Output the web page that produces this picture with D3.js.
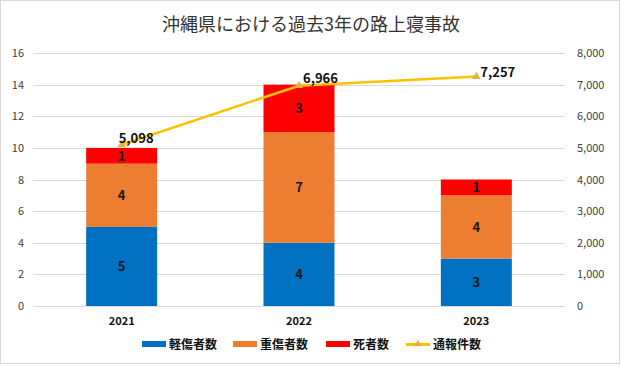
<!DOCTYPE html>
<html><head><meta charset="utf-8">
<script src="https://cdn.jsdelivr.net/npm/d3@7"></script>
<style>body{margin:0;background:#fff}svg{display:block}text{font-family:"Noto Sans CJK JP","DejaVu Sans",sans-serif}</style>
</head><body>
<svg id="c" width="622" height="367"></svg>
<script>
const title = "沖縄県における過去3年の路上寝事故";
const years = ["2021","2022","2023"];
const seriesNames = ["軽傷者数","重傷者数","死者数"];
const minor = [5,4,3];
const serious = [4,7,4];
const deaths = [1,3,1];
const reports = [5098,6966,7257];
const lineName = "通報件数";
const leftTicks = [0,2,4,6,8,10,12,14,16];
const rightTicks = [0,1000,2000,3000,4000,5000,6000,7000,8000];
const colors = ["#0070C0","#ED7D31","#FF0000"];
const lineColor = "#FFC000";

const svg = d3.select("#c");
svg.append("rect").attr("x",0.5).attr("y",0.5).attr("width",619).attr("height",363).attr("fill","#fff").attr("stroke","#d9d9d9");
const L=33,R=565,T=53,B=306;
const x = d3.scaleBand().domain(years).range([L,R]).paddingInner(0.4).paddingOuter(0.2);
const yL = d3.scaleLinear().domain([0,16]).range([B,T]);
const yR = d3.scaleLinear().domain([0,8000]).range([B,T]);

svg.append("text").attr("x",311).attr("y",31).attr("text-anchor","middle").attr("font-size",18).attr("fill","#333").text(title);

// grid
svg.append("g").selectAll("line").data(leftTicks).join("line")
 .attr("x1",L).attr("x2",R).attr("y1",d=>Math.round(yL(d))+0.5).attr("y2",d=>Math.round(yL(d))+0.5)
 .attr("stroke","#d9d9d9");
const gl = svg.append("g").attr("transform",`translate(${L},0)`)
 .call(d3.axisLeft(yL).tickValues(leftTicks).tickSize(0).tickPadding(9));
gl.select(".domain").remove();
gl.selectAll("text").attr("font-size",11).attr("fill","#404040").attr("font-family","'Liberation Sans',Arial,sans-serif");
const gr = svg.append("g").attr("transform",`translate(${R},0)`)
 .call(d3.axisRight(yR).tickValues(rightTicks).tickSize(0).tickPadding(12).tickFormat(d3.format(",")));
gr.select(".domain").remove();
gr.selectAll("text").attr("font-size",11).attr("fill","#404040").attr("font-family","'Liberation Sans',Arial,sans-serif");

// stacked bars
const rows = years.map((y,i)=>({year:y,"軽傷者数":minor[i],"重傷者数":serious[i],"死者数":deaths[i]}));
const stack = d3.stack().keys(seriesNames)(rows);
const bw = 71;
stack.forEach((s,si)=>{
  const g = svg.append("g");
  g.selectAll("rect").data(s).join("rect")
   .attr("x",d=>x(d.data.year)+x.bandwidth()/2-bw/2).attr("width",bw)
   .attr("y",d=>yL(d[1])).attr("height",d=>yL(d[0])-yL(d[1])).attr("fill",colors[si]);
  g.selectAll("text").data(s).join("text")
   .attr("x",d=>x(d.data.year)+x.bandwidth()/2).attr("y",d=>(yL(d[0])+yL(d[1]))/2+5)
   .attr("text-anchor","middle").attr("font-size",13).attr("font-weight","bold").attr("fill","#1a1a1a")
   .attr("font-family","'DejaVu Sans',sans-serif")
   .text(d=>d[1]-d[0]);
});

// x labels
svg.append("g").selectAll("text").data(years).join("text")
 .attr("x",d=>x(d)+x.bandwidth()/2).attr("y",325).attr("text-anchor","middle")
 .attr("font-size",11).attr("font-weight","bold").attr("fill","#111")
 .attr("font-family","'Liberation Sans',Arial,sans-serif").text(d=>d);

// line
const cx = d=>x(d)+x.bandwidth()/2;
svg.append("path").datum(reports).attr("fill","none").attr("stroke",lineColor).attr("stroke-width",2.5)
 .attr("d",d3.line().x((d,i)=>cx(years[i])).y(d=>yR(d)));
svg.append("g").selectAll("path").data(reports).join("path")
 .attr("transform",(d,i)=>`translate(${cx(years[i])},${yR(d)})`)
 .attr("d",d3.symbol(d3.symbolTriangle,30)).attr("fill","#E5B04A");
const lblDx=[-3,4,4], lblDy=[-2,-3,1];
svg.append("g").selectAll("text").data(reports).join("text")
 .attr("x",(d,i)=>cx(years[i])+lblDx[i]).attr("y",(d,i)=>yR(d)+lblDy[i])
 .attr("font-size",13).attr("font-weight","bold").attr("fill","#111")
 .attr("font-family","'DejaVu Sans',sans-serif")
 .text(d=>d3.format(",")(d));

// legend
const leg = [{n:seriesNames[0],c:colors[0],x:142},{n:seriesNames[1],c:colors[1],x:233},{n:seriesNames[2],c:colors[2],x:326},{n:lineName,c:lineColor,x:406,line:true}];
const lg = svg.append("g");
leg.forEach(l=>{
  lg.append("rect").attr("x",l.x).attr("y",l.line?343:341).attr("width",24).attr("height",l.line?3:6).attr("fill",l.c);
  if(l.line) lg.append("path").attr("transform",`translate(${l.x+12},344)`).attr("d",d3.symbol(d3.symbolTriangle,25)).attr("fill","#E5B04A");
  lg.append("text").attr("x",l.x+27).attr("y",349).attr("font-size",12).attr("font-weight","bold").attr("fill","#111").text(l.n);
});
</script>
</body></html>
